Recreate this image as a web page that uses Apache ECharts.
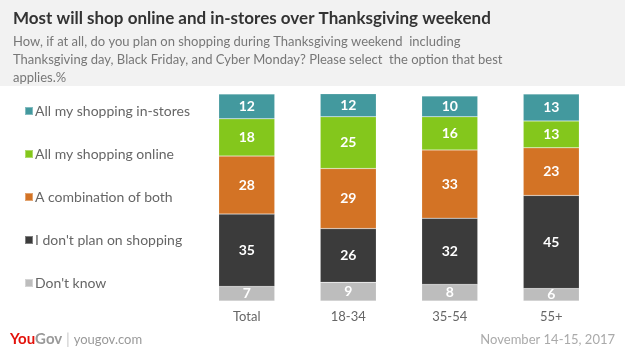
<!DOCTYPE html>
<html>
<head>
<meta charset="utf-8">
<script src="https://cdn.jsdelivr.net/npm/echarts@6/dist/echarts.min.js"></script>
<style>
  html, body { margin: 0; padding: 0; background: #fff; }
  #main { width: 625px; height: 354px; }
</style>
</head>
<body>
<div id="main"></div>
<script>
// categories and answers
const groups = ['Total', '18-34', '35-54', '55+']
const answers = ['All my shopping in-stores', 'All my shopping online', 'A combination of both', "I don't plan on shopping", "Don't know"]
const colors = ['#43999e', '#84c71c', '#d37325', '#3b3b3b', '#bdbdbd']

// values per answer (same order as groups)
const inStores = [12, 12, 10, 13]
const online = [18, 25, 16, 13]
const combination = [28, 29, 33, 23]
const noPlan = [35, 26, 32, 45]
const dontKnow = [7, 9, 8, 6]

const values = [inStores, online, combination, noPlan, dontKnow]

const font = 'Lato'

// stacked from bottom: don't know first
let series = []
for (let i = answers.length - 1; i >= 0; i--) {
    series.push({
        name: answers[i],
        type: 'bar',
        stack: 'all',
        barWidth: 56,
        data: values[i],
        itemStyle: {
            color: colors[i],
            borderColor: 'rgba(255,255,255,0.35)',
            borderWidth: 0.5
        },
        label: {
            show: true,
            color: '#fff',
            fontFamily: font,
            fontWeight: 'bold',
            fontSize: 14
        }
    })
}

const chart = echarts.init(document.getElementById('main'))
chart.setOption({
    animation: false,
    backgroundColor: '#fff',
    title: {
        text: 'Most will shop online and in-stores over Thanksgiving weekend',
        subtext: 'How, if at all, do you plan on shopping during Thanksgiving weekend  including\nThanksgiving day, Black Friday, and Cyber Monday? Please select  the option that best\napplies.%',
        left: 8,
        top: 5,
        itemGap: 6,
        textStyle: { fontFamily: font, fontWeight: 'bold', fontSize: 17, color: '#333' },
        subtextStyle: { fontFamily: font, fontSize: 13, color: '#777', lineHeight: 18 }
    },
    legend: {
        orient: 'vertical',
        left: 19,
        top: 99,
        itemWidth: 8,
        itemHeight: 8,
        itemGap: 29,
        icon: 'rect',
        data: answers,
        textStyle: { fontFamily: font, fontSize: 14, color: '#666', padding: [0, 0, 0, -3] },
        selectedMode: false
    },
    grid: { left: 196, right: 23, top: 94, bottom: 53 },
    xAxis: {
        type: 'category',
        data: groups,
        axisLine: { show: false },
        axisTick: { show: false },
        axisLabel: { fontFamily: font, fontSize: 13, color: '#666', margin: 9 }
    },
    yAxis: {
        type: 'value',
        min: 0,
        max: 100,
        show: false
    },
    graphic: [
        {
            type: 'rect',
            z: -10,
            shape: { x: 0, y: 0, width: 625, height: 86 },
            style: { fill: '#f2f2f2' }
        },
        {
            type: 'text',
            left: 10,
            top: 332,
            style: {
                text: '{you|You}{gov|Gov}{sep| | }{url|yougov.com}',
                rich: {
                    you: { fontFamily: font, fontWeight: 'bold', fontSize: 15, fill: '#e3120b' },
                    gov: { fontFamily: font, fontWeight: 'bold', fontSize: 15, fill: '#999' },
                    sep: { fontFamily: font, fontSize: 15, fill: '#ccc' },
                    url: { fontFamily: font, fontSize: 13, fill: '#999' }
                }
            }
        },
        {
            type: 'text',
            right: 10,
            top: 333,
            style: {
                text: 'November 14-15, 2017',
                fontFamily: font,
                fontSize: 13,
                fill: '#aaa'
            }
        }
    ],
    series: series
})
</script>
</body>
</html>
